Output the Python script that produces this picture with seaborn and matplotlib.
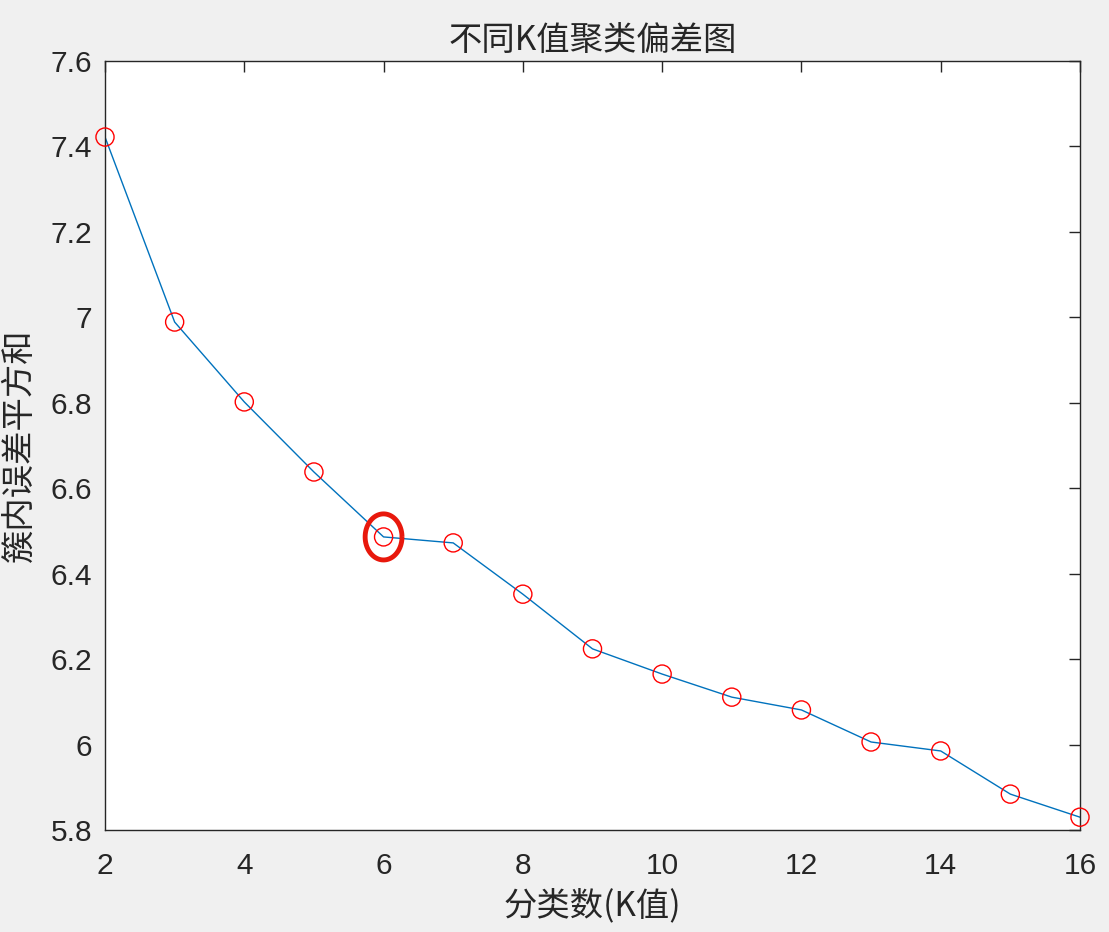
import matplotlib
matplotlib.use('Agg')
import matplotlib.pyplot as plt
import numpy as np
import pandas as pd
import seaborn as sns
from matplotlib.path import Path

# K values and within-cluster SSE
k_values = [2, 3, 4, 5, 6, 7, 8, 9, 10, 11, 12, 13, 14, 15, 16]
sse = [7.422, 6.989, 6.802, 6.638, 6.486, 6.472, 6.352, 6.224,
       6.165, 6.111, 6.081, 6.006, 5.985, 5.884, 5.830]
best_k = 6
x_ticks = [2, 4, 6, 8, 10, 12, 14, 16]
y_ticks = [5.8, 6.0, 6.2, 6.4, 6.6, 6.8, 7.0, 7.2, 7.4, 7.6]
y_tick_labels = ['5.8', '6', '6.2', '6.4', '6.6', '6.8', '7', '7.2', '7.4', '7.6']

df = pd.DataFrame({'k': k_values, 'sse': sse})

sns.set_style('white')
plt.rcParams['font.family'] = ['Liberation Sans', 'Noto Sans CJK SC', 'DejaVu Sans']

fig = plt.figure(figsize=(11.09, 9.32), dpi=100, facecolor='#f0f0f0')
ax = fig.add_axes([105 / 1109, 1 - 830 / 932, 975 / 1109, 769 / 932])

sns.lineplot(data=df, x='k', y='sse', ax=ax, color='#0072bd', linewidth=1.0)
ax.scatter(df['k'], df['sse'], s=170, facecolors='none', edgecolors='#ff0000',
           linewidths=1.0, zorder=3, clip_on=False)

# highlight the elbow with a slightly tall ellipse
t = np.linspace(0, 2 * np.pi, 80)
ellipse = Path(np.column_stack([0.8 * np.cos(t), np.sin(t)]))
best = df[df['k'] == best_k]
ax.scatter(best['k'], best['sse'], s=1100, marker=ellipse, facecolors='none',
           edgecolors='#e8180c', linewidths=3.5, zorder=4)

ax.set_xlim(2, 16)
ax.set_ylim(5.8, 7.6)
ax.set_xticks(x_ticks)
ax.set_yticks(y_ticks)
ax.set_yticklabels(y_tick_labels)

ax.tick_params(direction='in', length=8, width=1, colors='#262626',
               labelsize=21.5, top=True, right=True)
ax.tick_params(axis='y', pad=9)
ax.tick_params(axis='x', pad=16)
for s in ax.spines.values():
    s.set_color('#262626')
    s.set_linewidth(1)

ax.set_title('不同K值聚类偏差图', fontsize=24, color='#262626',
             family=['Noto Sans CJK SC'], pad=8)
ax.set_xlabel('分类数(K值)', fontsize=24, color='#262626',
              family=['Noto Sans CJK SC'], labelpad=6)
ax.set_ylabel('簇内误差平方和', fontsize=24, color='#262626',
              family=['Noto Sans CJK SC'], labelpad=10)

fig.savefig('out.png', dpi=100, facecolor=fig.get_facecolor())
